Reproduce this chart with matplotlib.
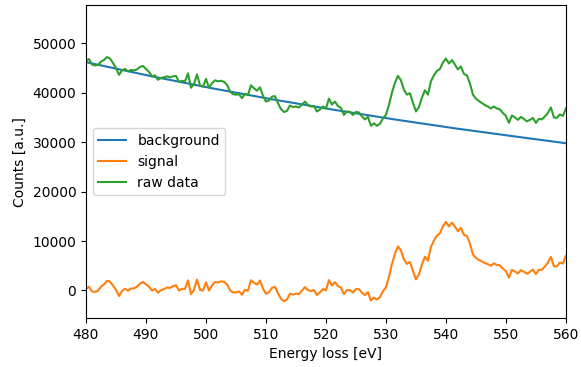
import numpy as np
import matplotlib
matplotlib.use('Agg')
import matplotlib.pyplot as plt

# === DATA ===
energy = np.arange(480.0, 560.01, 0.5)

raw_counts = [
    46500, 46800, 45700, 45500, 45600, 46300, 46600, 47200, 46900, 46000,
    45000, 43600, 44500, 44800, 44300, 44600, 44500, 44700, 45200, 45400,
    44800, 44200, 43300, 43500, 42600, 43000, 43100, 43300, 43100, 43300,
    43400, 42200, 42400, 42300, 43900, 41000, 41700, 43700, 41500, 41200,
    42800, 41000, 41900, 42500, 42300, 42400, 42200, 41600, 40300, 39700,
    39600, 39700, 38900, 39800, 39500, 41500, 40900, 40400, 41100, 39400,
    38200, 38400, 39200, 39300, 37900, 36700, 36100, 36300, 37400, 37100,
    37200, 37000, 37600, 38200, 37500, 37200, 37300, 36200, 36600, 37200,
    36800, 38800, 37600, 38200, 37300, 36900, 35500, 36200, 36100, 35500,
    36100, 36000, 35200, 34600, 35100, 33300, 33800, 33300, 33700, 34800,
    35500, 37500, 40000, 42000, 43400, 42500, 40600, 39600, 39900, 38000,
    36200, 37100, 39000, 40500, 39600, 42300, 43500, 44400, 44800, 46100,
    46900, 45900, 46600, 45700, 44700, 45300, 43800, 43500, 41900, 39600,
    38800, 38300, 37900, 37500, 37200, 36800, 37200, 36800, 36600, 35900,
    35300, 33900, 35400, 35000, 34500, 35100, 34700, 34200, 34500, 34900,
    33900, 34700, 34600, 35200, 35900, 37000, 35000, 34900, 35600, 35300,
    36800,
]

# fitted background, sampled every 10 eV
bg_energy = [480, 490, 500, 510, 520, 530, 540, 550, 560]
bg_counts = [46170, 43540, 41120, 38870, 36800, 34850, 33040, 31380, 29780]

raw_counts = np.array(raw_counts, dtype=float)
background = np.interp(energy, bg_energy, bg_counts)
signal = raw_counts - background

# === PLOT ===
fig = plt.figure(figsize=(5.81, 3.67), dpi=100)
ax = fig.add_axes([0.148, 0.133, 0.826, 0.853])

ax.plot(energy, background, label='background')
ax.plot(energy, signal, label='signal')
ax.plot(energy, raw_counts, label='raw data')

ax.set_xlim(480, 560)
ax.set_ylim(-5600, 57700)
ax.set_xlabel('Energy loss [eV]')
ax.set_ylabel('Counts [a.u.]')
ax.legend(loc='center left')

fig.savefig('out.png', dpi=100)
